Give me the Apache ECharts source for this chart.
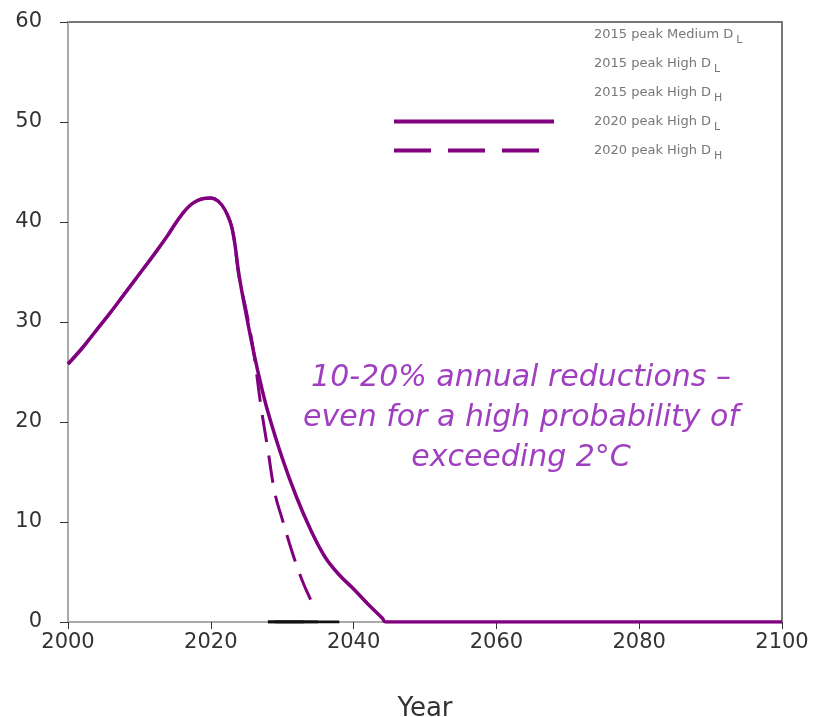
<!DOCTYPE html>
<html>
<head>
<meta charset="utf-8">
<script src="https://cdn.jsdelivr.net/npm/echarts@6/dist/echarts.min.js"></script>
<style>html,body{margin:0;padding:0;background:#fff}#c{width:822px;height:717px}</style>
</head>
<body>
<div id="c"></div>
<script>
// ---- data ----
const xTicks = [2000, 2020, 2040, 2060, 2080, 2100];
const yTicks = [0, 10, 20, 30, 40, 50, 60];

const solidYears  = [2000,2002,2004,2006,2008,2010,2012,2014,2015,2016,2017,2018,2019,2020,2021,2022,2023,2024,2025,2026,2027,2028,2030,2032,2034,2036,2038,2040,2042,2044,2044.5,2100];
const solidValues = [25.8,27.4,29.2,31.0,32.9,34.8,36.7,38.7,39.8,40.8,41.6,42.1,42.35,42.4,42.1,41.2,39.3,34.5,30.6,27.0,23.8,21.0,16.4,12.5,9.2,6.5,4.7,3.3,1.8,0.4,0,0];

const dashYears  = [2000,2002,2004,2006,2008,2010,2012,2014,2015,2016,2017,2018,2019,2020,2021,2022,2023,2024,2025,2026,2027,2028,2029,2030,2031,2032,2033,2034,2034.5];
const dashValues = [25.8,27.4,29.2,31.0,32.9,34.8,36.7,38.7,39.8,40.8,41.6,42.1,42.35,42.4,42.1,41.2,39.3,34.3,31.0,27.0,21.7,17.2,12.8,10.3,7.9,5.7,3.8,2.2,1.4];

const peak2015MedDLYears  = [2028, 2035];
const peak2015MedDLValues = [0, 0];
const peak2015HighDLYears  = [2029, 2038];
const peak2015HighDLValues = [0, 0];
const peak2015HighDHYears  = [2028, 2033];
const peak2015HighDHValues = [0, 0];

const seriesNames = ['2015 peak Medium D_L', '2015 peak High D_L', '2015 peak High D_H', '2020 peak High D_L', '2020 peak High D_H'];
const annotation = '10-20% annual reductions \u2013\neven for a high probability of\nexceeding 2\u00b0C';

const zip = (xs, ys) => xs.map((x, i) => [x, ys[i]]);

const chart = echarts.init(document.getElementById('c'));
const purple = '#800080';
const black = '#111';

const option = {
  animation: false,
  backgroundColor: '#fff',
  grid: { left: 68, right: 40, top: 22, bottom: 95, containLabel: false, outerBoundsMode: 'none',
    show: true, borderColor: '#777', borderWidth: 2, backgroundColor: 'transparent' },
  xAxis: {
    type: 'value', min: 2000, max: 2100, interval: 20,
    name: 'Year', nameLocation: 'middle', nameGap: 74,
    nameTextStyle: { fontFamily: 'DejaVu Sans', fontSize: 26, color: '#333' },
    axisLine: { show: true, lineStyle: { color: '#aaa', width: 2 } },
    axisTick: { show: true, inside: false, length: 7, lineStyle: { color: '#333', width: 1 } },
    axisLabel: { margin: 10, fontFamily: 'DejaVu Sans', fontSize: 21, color: '#333',
      formatter: v => xTicks.includes(v) ? String(v) : '' },
    splitLine: { show: false }
  },
  yAxis: {
    type: 'value', min: 0, max: 60, interval: 10,
    axisLine: { show: true, lineStyle: { color: '#aaa', width: 2 } },
    axisTick: { show: true, inside: false, length: 8, lineStyle: { color: '#333', width: 1 } },
    axisLabel: { margin: 26, fontFamily: 'DejaVu Sans', fontSize: 21, color: '#333',
      formatter: v => yTicks.includes(v) ? String(v) : '' },
    splitLine: { show: false }
  },
  legend: {
    orient: 'vertical', left: 387, top: 23,
    itemWidth: 160, itemHeight: 14, itemGap: 11,
    selectedMode: false,
    itemStyle: { opacity: 0 },
    lineStyle: { width: 4 },
    data: [
      { name: seriesNames[0], lineStyle: { opacity: 0 }, itemStyle: { opacity: 0 } },
      { name: seriesNames[1], lineStyle: { opacity: 0 }, itemStyle: { opacity: 0 } },
      { name: seriesNames[2], lineStyle: { opacity: 0 }, itemStyle: { opacity: 0 } },
      { name: seriesNames[3], itemStyle: { opacity: 0 } },
      { name: seriesNames[4], itemStyle: { opacity: 0 }, lineStyle: { type: [37, 17], width: 4 } }
    ],
    formatter: name => {
      const p = name.split('_');
      return '{t|' + p[0] + '}{s|' + p[1] + '}';
    },
    textStyle: {
      rich: {
        t: { fontFamily: 'DejaVu Sans', fontSize: 13, color: '#777', padding: [0, 0, 0, 35] },
        s: { fontFamily: 'DejaVu Sans', fontSize: 11, color: '#777', padding: [12, 0, 0, 3] }
      }
    }
  },
  graphic: [{
    type: 'text', x: 521, y: 358, z: 10,
    style: {
      text: annotation,
      font: 'italic 30px DejaVu Sans', fill: '#a040c0',
      textAlign: 'center', lineHeight: 40
    }
  }],
  series: [
    { name: seriesNames[0], type: 'line', data: zip(peak2015MedDLYears, peak2015MedDLValues), showSymbol: false, symbol: 'none', lineStyle: { color: black, width: 3 }, itemStyle: { color: black }, z: 2 },
    { name: seriesNames[1], type: 'line', data: zip(peak2015HighDLYears, peak2015HighDLValues), showSymbol: false, symbol: 'none', lineStyle: { color: black, width: 3 }, itemStyle: { color: black }, z: 2 },
    { name: seriesNames[2], type: 'line', data: zip(peak2015HighDHYears, peak2015HighDHValues), showSymbol: false, symbol: 'none', lineStyle: { color: black, width: 3 }, itemStyle: { color: black }, z: 2 },
    { name: seriesNames[3], type: 'line', data: zip(solidYears, solidValues), showSymbol: false, symbol: 'none', smooth: 0.4, lineStyle: { color: purple, width: 3.5 }, itemStyle: { color: purple }, z: 4 },
    { name: seriesNames[4], type: 'line', data: zip(dashYears, dashValues), showSymbol: false, symbol: 'none', smooth: 0.4, lineStyle: { color: purple, width: 3, type: [28, 13] }, itemStyle: { color: purple }, z: 3 }
  ]
};
chart.setOption(option);
</script>
</body>
</html>
